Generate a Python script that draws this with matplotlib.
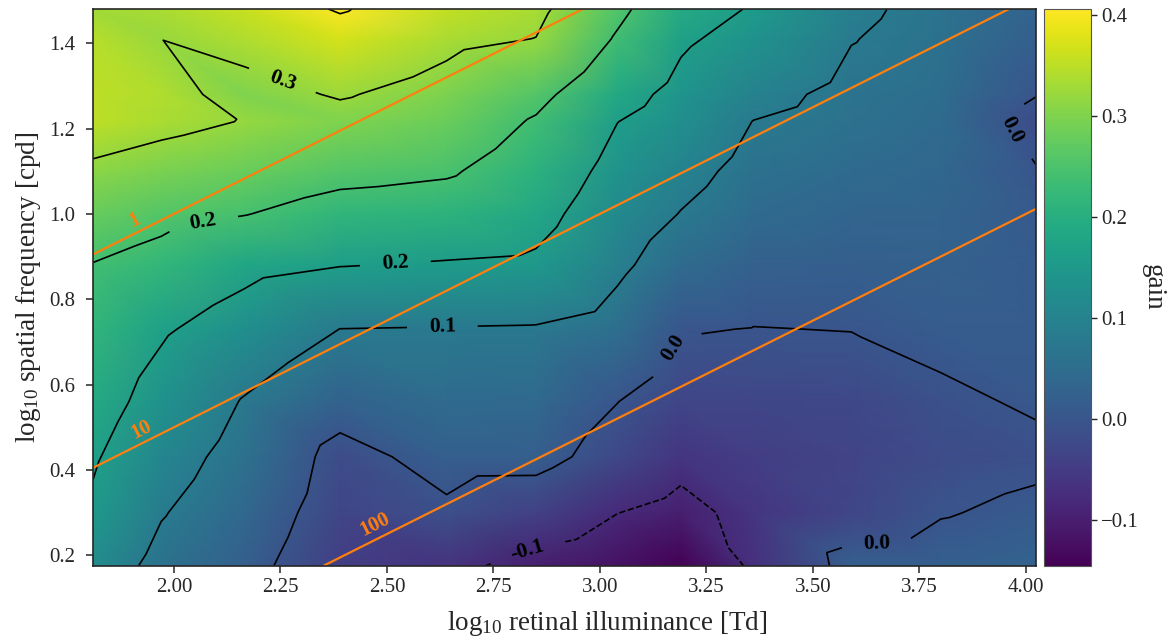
import numpy as np
import matplotlib
matplotlib.use('Agg')
import matplotlib.pyplot as plt
import matplotlib.tri as mtri

# log10 retinal illuminance [Td] and log10 spatial frequency [cpd] of the nodes
illum = np.array([1.81, 1.97, 2.165, 2.39, 2.64, 2.85, 3.04, 3.19, 3.36, 3.59, 3.8, 4.0235])
freq = np.array([0.175, 0.30, 0.431, 0.56, 0.73, 0.88, 1.00, 1.10, 1.216, 1.28, 1.41, 1.48])

# gain, one row per spatial frequency
gain = np.array([
    [0.120, 0.060, 0.020, -0.045, -0.065, -0.100, -0.120, -0.1455, -0.070, 0.020, 0.022, 0.030],
    [0.150, 0.084, 0.038, -0.030, -0.010, -0.040, -0.079, -0.099, -0.060, -0.030, -0.003, 0.010],
    [0.167, 0.108, 0.057, -0.020, 0.021, 0.020, -0.025, -0.060, -0.045, -0.035, -0.020, -0.010],
    [0.190, 0.133, 0.076, 0.026, 0.046, 0.040, 0.001, -0.033, -0.030, -0.025, -0.008, 0.005],
    [0.215, 0.168, 0.126, 0.0795, 0.077, 0.075, 0.054, 0.003, -0.001, 0.001, 0.012, 0.012],
    [0.238, 0.217, 0.180, 0.162, 0.155, 0.149, 0.093, 0.0455, 0.024, 0.020, 0.024, 0.012],
    [0.278, 0.258, 0.242, 0.216, 0.208, 0.183, 0.117, 0.078, 0.044, 0.033, 0.030, 0.008],
    [0.310, 0.295, 0.280, 0.258, 0.247, 0.207, 0.138, 0.100, 0.061, 0.044, 0.036, 0.003],
    [0.350, 0.335, 0.318, 0.300, 0.280, 0.234, 0.161, 0.126, 0.079, 0.058, 0.045, -0.020],
    [0.350, 0.340, 0.300, 0.325, 0.297, 0.258, 0.186, 0.140, 0.098, 0.065, 0.050, 0.002],
    [0.345, 0.3205, 0.340, 0.370, 0.335, 0.319, 0.234, 0.170, 0.135, 0.082, 0.060, 0.020],
    [0.330, 0.335, 0.360, 0.4056, 0.355, 0.335, 0.255, 0.190, 0.155, 0.090, 0.065, 0.030],
])

gain_levels = [-0.08, 0.0, 0.08, 0.16, 0.24, 0.32, 0.40]
ratio_levels = [1, 10, 100]          # illuminance / frequency^2
ratio_labels = ['1', '10', '100']

# where the labels sit (data coords)
gain_label_pos = [(2.25, 1.30), (2.07, 0.97), (2.52, 0.88), (2.63, 0.74),
                  (3.15, 0.70), (2.83, 0.21), (3.65, 0.23), (3.97, 1.20)]
ratio_label_pos = [(1.908, 0.986), (1.924, 0.495), (2.472, 0.271)]


def main():
    plt.rcParams['font.family'] = 'serif'
    plt.rcParams['font.serif'] = ['Liberation Serif', 'DejaVu Serif']
    plt.rcParams['mathtext.fontset'] = 'custom'
    plt.rcParams['mathtext.rm'] = 'Liberation Serif'
    plt.rcParams['mathtext.it'] = 'Liberation Serif:italic'
    plt.rcParams['mathtext.bf'] = 'Liberation Serif:bold'
    dark = '#262626'
    plt.rcParams['text.color'] = dark
    plt.rcParams['axes.labelcolor'] = dark
    plt.rcParams['axes.edgecolor'] = dark
    plt.rcParams['xtick.color'] = dark
    plt.rcParams['ytick.color'] = dark

    fig = plt.figure(figsize=(11.73, 6.37), dpi=100)
    ax = fig.add_axes([93 / 1173, 71 / 637, 943 / 1173, 557 / 637])
    cax = fig.add_axes([1044 / 1173, 71 / 637, 47 / 1173, 557 / 637])

    gx, gy = np.meshgrid(illum, freq)
    nx = len(illum)
    tris = []
    for j in range(len(freq) - 1):
        for i in range(nx - 1):
            bl = j * nx + i
            br, tl = bl + 1, bl + nx
            tris.append([bl, br, tl])
            tris.append([br, tl + 1, tl])
    triang = mtri.Triangulation(gx.ravel(), gy.ravel(), tris)

    img = ax.tripcolor(triang, gain.ravel(), shading='gouraud', cmap='viridis')
    ax.set_xlim(illum[0], illum[-1])
    ax.set_ylim(freq[0], freq[-1])

    cs = ax.tricontour(triang, gain.ravel(), levels=gain_levels,
                       colors='k', linewidths=1.2)
    labels = ax.clabel(cs, fmt='%.1f', fontsize=15.5, inline=True,
                       inline_spacing=22, manual=gain_label_pos)
    for t in labels:
        t.set_fontweight('bold')
        t.set_color('k')

    # lines of constant illuminance / frequency^2
    ax.tricontour(triang, (gx - 2 * gy).ravel(), levels=np.log10(ratio_levels),
                  colors='#ff7f0e', linewidths=1.6)
    for (px, py), txt in zip(ratio_label_pos, ratio_labels):
        ax.text(px, py, txt, color='#ff7f0e', fontsize=15, fontweight='bold',
                rotation=26.6, rotation_mode='anchor', ha='center', va='center')

    ax.set_xlabel('log$_{10}$ retinal illuminance [Td]', fontsize=19.5, labelpad=9)
    ax.xaxis.label.set_x(0.545)
    ax.set_ylabel('log$_{10}$ spatial frequency [cpd]', fontsize=19.5)
    ax.tick_params(labelsize=15, length=5, width=1.1, direction='out')
    ax.tick_params(axis='y', pad=8)
    for s in ax.spines.values():
        s.set_linewidth(1.2)

    cb = fig.colorbar(img, cax=cax)
    cb.set_label('gain', rotation=270, fontsize=19.5, labelpad=19)
    cb.ax.tick_params(labelsize=15, length=4, width=1.0)
    cb.outline.set_edgecolor('#555555')

    fig.savefig('out.png', dpi=100)


if __name__ == '__main__':
    main()
